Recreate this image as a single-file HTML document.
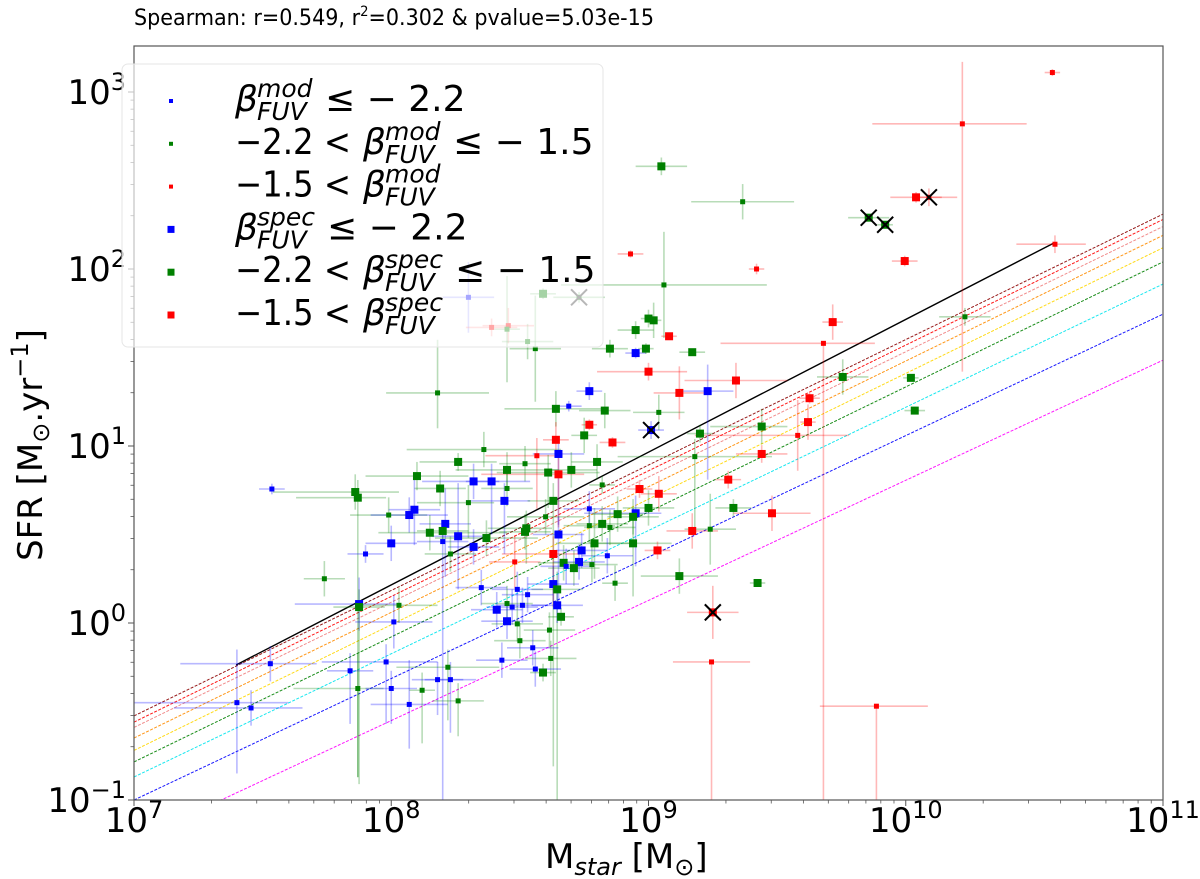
<!DOCTYPE html>
<html><head><meta charset="utf-8"><style>
html,body{margin:0;padding:0;background:#fff;}
svg{display:block;font-family:"DejaVu Sans","Liberation Sans",sans-serif;}
</style></head><body>
<svg id="chart" width="1200" height="879" viewBox="0 0 1200 879" xmlns="http://www.w3.org/2000/svg">
<text x="134" y="25" font-size="22" fill="#000" textLength="520" lengthAdjust="spacingAndGlyphs">Spearman: r=0.549, r<tspan font-size="14" dy="-9">2</tspan><tspan dy="9">=0.302 &amp; pvalue=5.03e-15</tspan></text>
<defs><clipPath id="plotclip"><rect x="134" y="46" width="1029" height="754"/></clipPath></defs>
<rect x="134" y="46" width="1029" height="754" fill="#fff"/>
<g id="lines" clip-path="url(#plotclip)"></g>
<g id="errs" clip-path="url(#plotclip)"></g>
<g id="marks" clip-path="url(#plotclip)"></g>
<rect x="134" y="46" width="1029" height="754" fill="none" stroke="#555" stroke-width="1.2"/>
<g id="ticks"></g>
<text transform="translate(42,445) rotate(-90)" text-anchor="middle" font-size="34">SFR [M<tspan font-size="24" dy="7">⊙</tspan><tspan dy="-7">.yr</tspan><tspan font-size="24" dy="-14">−1</tspan><tspan dy="14">]</tspan></text>
<text x="545" y="868" font-size="34">M<tspan font-size="24" dy="7" font-style="italic">star</tspan><tspan dy="-7"> [M</tspan><tspan font-size="24" dy="7">⊙</tspan><tspan dy="-7">]</tspan></text>
<g id="legend">
<rect x="122" y="64" width="481" height="283" rx="6" fill="#fff" fill-opacity="0.65" stroke="#e6e6e6" stroke-width="1"/>
</g>
</svg>
<script>
// ---- data ----
const xTickExp = [7, 8, 9, 10, 11];
const yTickExp = [-1, 0, 1, 2, 3];
const refLineLogSfrAt7 = [-0.525, -0.56, -0.59, -0.65, -0.72, -0.785, -0.87, -1.0, -1.23];
const refLineLogSfrAt11 = [2.31, 2.28, 2.24, 2.19, 2.12, 2.04, 1.915, 1.745, 1.485];
const fitLineLogMass = [7.397, 10.58];
const fitLineLogSfr = [-0.237, 2.15];
// points: logMass, logSFR, class (0 blue,1 green,2 red), marker (0 mod small,1 spec large), errors (dex)
const logMass = [7.536,7.86,7.87,8.10,8.19,8.26,8.32,7.99,8.07,8.09,8.21,8.15,8.20,8.26,8.00,7.90,8.32,7.74,7.875,7.875,8.03,8.01,7.53,7.40,7.455,7.84,7.98,7.87,8.00,8.07,8.12,8.18,8.23,8.22,8.26,
8.566,8.65,8.45,8.52,8.61,8.65,8.70,8.80,8.39,8.45,8.44,8.63,8.30,8.82,8.965,9.04,9.31,9.18,8.77,9.00,8.95,8.88,8.94,8.60,8.82,8.77,8.85,8.525,8.52,8.65,8.20,8.37,9.17,9.24,8.79,8.94,9.035,8.63,8.48,8.74,8.84,8.23,8.73,8.67,8.68,8.71,8.78,9.12,8.87,8.63,8.645,8.35,8.49,8.53,8.45,8.47,8.51,8.645,8.41,8.66,8.45,8.49,8.615,8.50,8.55,8.43,8.62,8.56,8.59,9.25,9.245,
9.05,9.06,8.93,8.30,8.59,8.73,8.39,8.455,8.45,8.53,8.56,8.18,9.00,9.02,8.95,9.08,8.85,8.95,8.99,9.17,9.00,9.12,9.23,8.77,8.69,8.64,8.83,9.04,8.77,9.01,8.75,8.64,8.86,9.20,8.36,
9.366,9.42,9.856,9.92,10.04,10.09,9.996,9.716,9.68,9.755,10.02,10.035,9.34,9.626,9.62,9.58,9.44,9.44,10.23,10.57,10.22,10.58,9.886,9.33,9.48,9.424];
const logSfr = [0.757,0.74,0.708,0.83,0.76,0.91,0.80,0.61,0.61,0.64,0.56,0.51,0.52,0.49,0.45,0.39,0.43,0.25,0.107,0.09,0.10,0.006,-0.23,-0.45,-0.48,-0.27,-0.22,-0.37,-0.37,-0.46,-0.38,-0.32,-0.32,-0.25,-0.44,
0.945,0.955,0.865,0.90,0.85,0.84,0.865,0.91,0.80,0.76,0.69,0.69,0.68,0.78,0.757,0.73,0.81,0.94,0.645,0.65,0.62,0.615,0.60,0.60,0.56,0.55,0.54,0.535,0.515,0.50,0.46,0.48,0.52,0.53,0.45,0.45,0.41,0.39,0.345,0.41,0.38,0.39,0.345,0.34,0.32,0.31,0.33,0.265,0.225,0.22,0.19,0.20,0.19,0.16,0.11,0.09,0.10,0.10,0.075,0.035,0.01,-0.005,-0.04,-0.10,-0.14,-0.21,-0.20,-0.26,-0.28,0.06,-0.22,
2.58,1.91,2.085,1.84,1.86,1.84,1.67,1.68,1.66,1.59,1.55,1.30,1.72,1.71,1.655,1.62,1.55,1.525,1.55,1.53,1.42,1.30,1.31,1.31,1.225,1.21,1.20,1.19,1.12,1.09,1.06,1.035,1.02,1.07,0.98,
2.38,2.00,2.29,2.25,2.405,2.405,2.045,1.70,1.58,1.39,1.385,1.20,1.37,1.27,1.135,1.06,1.11,0.955,1.73,3.11,2.82,2.14,-0.47,0.65,0.62,0.226];
const pointClass = [0,1,1,1,1,1,0,1,0,0,0,1,1,0,0,0,0,1,0,1,1,0,0,0,0,0,0,1,0,0,1,0,0,1,1,
2,0,1,1,1,2,1,1,0,1,0,1,1,1,2,2,2,1,0,1,0,1,1,1,1,1,1,1,1,0,0,1,2,1,1,1,2,2,2,0,0,1,0,1,0,1,1,1,1,0,1,0,0,0,1,0,0,0,0,1,0,1,1,1,0,0,1,0,1,2,2,
1,1,2,0,1,1,2,2,1,1,1,1,1,1,1,2,1,0,1,1,2,2,0,0,0,1,1,1,2,0,1,2,2,1,1,
1,2,1,1,2,2,2,2,2,1,1,1,2,2,2,2,1,2,1,2,2,2,2,1,2,1];
const pointLarge = [0,1,1,1,1,1,1,0,1,1,1,1,1,1,1,0,1,0,1,1,0,0,0,0,0,0,0,0,0,0,0,0,0,0,0,
0,1,1,0,1,1,1,1,1,0,1,1,0,0,1,1,1,0,0,1,1,1,1,0,1,0,0,1,1,1,0,1,1,0,1,1,1,1,0,1,0,0,1,1,0,1,0,1,0,1,1,0,0,0,0,0,0,1,1,1,1,0,0,0,0,0,0,0,1,1,0,
1,0,0,0,1,0,0,0,0,0,0,0,1,1,1,1,1,1,1,1,1,1,1,1,0,1,1,0,1,1,1,1,1,1,0,
0,0,1,1,1,0,1,1,0,1,1,1,1,1,1,0,1,1,0,0,0,0,0,1,1,1];
const errMassLo = [.05,.32,.24,.2,.1,.15,.2,.15,.15,.1,.1,.2,.1,.1,.1,.07,.1,.08,.25,.1,.15,.15,.35,.42,.3,.09,.25,.25,.1,.15,.05,.1,.1,.2,.1,
.2,.1,.2,.1,.2,.3,.1,.1,.1,.1,.15,.1,.2,.05,.05,.07,.05,.3,.1,.1,.2,.1,.1,.15,.1,.1,.1,.15,.1,.1,.1,.2,.1,.1,.15,.15,.05,.2,.1,.1,.1,.1,.1,.1,.1,.1,.1,.15,.05,.1,.1,.1,.1,.1,.1,.1,.1,.1,.1,.05,.1,.1,.1,.1,.1,.1,.1,.1,.05,.1,.15,
.1,.4,.05,.1,.05,.1,.1,.1,.05,.1,.1,.2,.03,.03,.07,.03,.07,.04,.03,.05,.2,.1,.1,.05,.05,.2,.1,.1,.03,.05,.05,.05,.05,.05,.3,
.2,.03,.08,.03,.1,.05,.05,.04,.4,.1,.03,.04,.2,.04,.03,.4,.2,.1,.1,.03,.35,.15,.22,.07,.15,.03];
const errMassHi = [.05,.17,.11,.2,.1,.15,.1,.15,.15,.1,.1,.3,.1,.1,.1,.07,.1,.08,.15,.1,.15,.15,.18,.2,.2,.09,.2,.1,.1,.15,.05,.1,.1,.2,.1,
.1,.1,.2,.1,.2,.1,.1,.1,.15,.1,.1,.1,.1,.05,.05,.07,.05,.3,.1,.1,.1,.1,.1,.15,.1,.1,.1,.1,.1,.1,.1,.2,.1,.1,.15,.15,.05,.1,.1,.1,.1,.1,.1,.1,.1,.1,.1,.15,.05,.1,.1,.1,.1,.1,.1,.1,.1,.1,.1,.05,.1,.1,.1,.1,.1,.1,.1,.1,.05,.1,.15,
.1,.4,.05,.1,.05,.1,.1,.1,.05,.1,.1,.2,.03,.03,.07,.03,.07,.04,.03,.05,.15,.1,.1,.05,.05,.2,.1,.1,.03,.05,.05,.05,.05,.05,.3,
.2,.03,.08,.03,.16,.05,.05,.04,.2,.1,.03,.04,.2,.04,.03,.2,.1,.1,.1,.03,.25,.12,.2,.07,.15,.03];
const errSfrLo = [.03,.1,1.58,.08,.1,.05,.1,.1,.1,.2,.3,.1,.05,.3,.1,.05,.1,.1,.15,1.0,.1,.15,.1,.4,.1,.3,.35,.5,.2,.25,.3,.2,.3,.3,.2,
.3,.4,.1,.1,.2,.3,.1,.1,.3,.1,.3,1.5,.2,.05,.05,.1,.05,.4,.1,.1,.3,.1,.1,.1,.1,.1,.1,.2,.1,.4,1.46,.1,.1,.2,.2,.3,.05,.3,.15,.1,.1,.1,.1,.1,.1,.1,.1,.1,.1,.1,1.2,.1,.1,.1,.1,.1,.1,.1,.1,.05,.1,.1,.1,.1,.1,.1,.1,.1,.05,.15,1.0,
.05,.3,.02,.2,.03,.03,.05,.1,.3,.1,.3,.2,.05,.1,.05,.02,.05,.03,.03,.02,.05,.15,.5,.05,.03,.1,.1,.1,.03,.05,.1,.1,.03,.05,.1,
.1,.03,.02,.02,.03,.05,.03,.1,2.7,.1,.02,.02,.1,.03,.1,.2,.1,.05,.05,.02,1.4,.05,1.0,.05,.1,.02];
const errSfrHi = [.03,.1,.1,.08,.1,.05,.1,.1,.1,.2,.2,.1,.05,.3,.1,.05,.1,.1,.15,.1,.1,.15,.1,.3,.1,.1,.1,.2,.1,.25,.1,.1,.1,.1,.1,
.1,.1,.1,.1,.1,.1,.1,.1,.1,.1,.1,.1,.1,.05,.05,.1,.05,.1,.1,.1,.1,.1,.1,.1,.1,.1,.1,.1,.1,.1,.1,.1,.1,.2,.2,.2,.05,.1,.15,.1,.1,.1,.1,.1,.1,.1,.1,.1,.1,.1,.1,.1,.1,.1,.1,.1,.1,.1,.1,.05,.1,.1,.1,.1,.1,.1,.1,.1,.05,.15,0,
.05,.3,.02,.2,.03,.03,.05,.1,.3,.1,.3,.3,.05,.1,.05,.02,.05,.03,.03,.02,.05,.15,.15,.05,.03,.1,.1,.1,.03,.05,.1,.1,.03,.05,.1,
.1,.03,.02,.02,.03,.05,.03,.1,0,.1,.02,.02,.1,.03,.1,.2,.1,.05,.05,.02,.35,.05,0,.05,.1,.02];
const crossMass = [8.73, 9.01, 9.25, 9.856, 9.92, 10.09];
const crossSfr = [1.84, 1.09, 0.06, 2.29, 2.25, 2.405];

// ---- axes ----
const X0 = 134, X1 = 1163, Y0 = 800, Y1 = 46;
function xs(lm){ return X0 + (lm - 7) / 4 * (X1 - X0); }
function ys(ls){ return Y0 - (ls + 1) * 177; }
const NS = 'http://www.w3.org/2000/svg';
function mk(tag, attrs, parent){ const e = document.createElementNS(NS, tag); for (const k in attrs) e.setAttribute(k, attrs[k]); parent.appendChild(e); return e; }
const colors = ['#0000ff', '#008000', '#ff0000'];
const errColors = ['rgba(0,0,255,0.28)', 'rgba(0,128,0,0.28)', 'rgba(255,0,0,0.28)'];
const lineColors = ['#8b0000', '#ff0000', '#f08080', '#ff8c00', '#ffd700', '#008000', '#00e5ee', '#0000ff', '#ff00ff'];
const lineNames = ['darkred', 'red', 'lightcoral', 'darkorange', 'gold', 'green', 'cyan', 'blue', 'magenta'];

const gl = document.getElementById('lines');
refLineLogSfrAt7.forEach((v, i) => {
  const l = mk('line', {x1: xs(7), y1: ys(v), x2: xs(11), y2: ys(refLineLogSfrAt11[i]), stroke: lineColors[i], 'stroke-width': 1, 'stroke-dasharray': '3,1.5', opacity: 0.9}, gl);
  
  
});
const fl = mk('line', {x1: xs(fitLineLogMass[0]), y1: ys(fitLineLogSfr[0]), x2: xs(fitLineLogMass[1]), y2: ys(fitLineLogSfr[1]), stroke: '#000', 'stroke-width': 1.4}, gl);



const ge = document.getElementById('errs');
const gm = document.getElementById('marks');
logMass.forEach((m, i) => {
  const s = logSfr[i], c = pointClass[i];
  const cx = xs(m), cy = ys(s);
  const g = mk('g', {}, ge);
  
  
  mk('line', {x1: xs(m - errMassLo[i]), y1: cy, x2: xs(m + errMassHi[i]), y2: cy, stroke: errColors[c], 'stroke-width': 1.6}, g);
  mk('line', {x1: cx, y1: ys(s - errSfrLo[i]), x2: cx, y2: ys(s + errSfrHi[i]), stroke: errColors[c], 'stroke-width': 1.6}, g);
});
logMass.forEach((m, i) => {
  const c = pointClass[i], sz = pointLarge[i] ? 8 : 5;
  const r = mk('rect', {x: xs(m) - sz / 2, y: ys(logSfr[i]) - sz / 2, width: sz, height: sz, fill: colors[c]}, gm);
  
  
});
crossMass.forEach((m, i) => {
  const cx = xs(m), cy = ys(crossSfr[i]), d = 8;
  const g = mk('g', {stroke: i === 0 ? '#333' : '#000', 'stroke-width': 2}, gm);
  
  
  mk('line', {x1: cx - d, y1: cy - d, x2: cx + d, y2: cy + d}, g);
  mk('line', {x1: cx - d, y1: cy + d, x2: cx + d, y2: cy - d}, g);
});

// ticks
const gt = document.getElementById('ticks');
xTickExp.forEach((e, i) => {
  const x = xs(e);
  const t = mk('line', {x1: x, y1: Y0, x2: x, y2: Y0 + 6, stroke: '#555', 'stroke-width': 1}, gt);
  
  
  const lab = mk('text', {x: x, y: 832, 'text-anchor': 'middle', 'font-size': 34}, gt);
  
  
  lab.innerHTML = '10<tspan font-size="24" dy="-14">' + e + '</tspan>';
  if (i < xTickExp.length - 1) for (let k = 2; k <= 9; k++) {
    const xm = xs(e + Math.log10(k));
    const mt = mk('line', {x1: xm, y1: Y0, x2: xm, y2: Y0 + 3.5, stroke: '#555', 'stroke-width': 0.8}, gt);
    
    
  }
});
yTickExp.forEach((e, i) => {
  const y = ys(e);
  const t = mk('line', {x1: X0 - 6, y1: y, x2: X0, y2: y, stroke: '#555', 'stroke-width': 1}, gt);
  
  
  const lab = mk('text', {x: 126, y: y + 12, 'text-anchor': 'end', 'font-size': 34}, gt);
  
  
  lab.innerHTML = '10<tspan font-size="24" dy="-14">' + (e < 0 ? '−' + (-e) : e) + '</tspan>';
  for (let k = 2; k <= 9; k++) {
    const ym = ys(e + Math.log10(k));
    if (ym < Y1) continue;
    const mt = mk('line', {x1: X0 - 3.5, y1: ym, x2: X0, y2: ym, stroke: '#555', 'stroke-width': 0.8}, gt);
    
    
  }
});

// legend
const legendColors = [0, 1, 2, 0, 1, 2];
const legendLarge = [0, 0, 0, 1, 1, 1];
const legendSup = ['mod', 'mod', 'mod', 'spec', 'spec', 'spec'];
const legendPre = ['', '−2.2 <', '−1.5 <', '', '−2.2 <', '−1.5 <'];
const legendPost = ['≤ − 2.2', '≤ − 1.5', '', '≤ − 2.2', '≤ − 1.5', ''];
const leg = document.getElementById('legend');
legendColors.forEach((c, i) => {
  const base = 111 + i * 42.8;
  const g = mk('g', {}, leg);
  
  
  const sz = legendLarge[i] ? 7 : 4;
  mk('rect', {x: 171 - sz / 2, y: base - 10 - sz / 2, width: sz, height: sz, fill: colors[c]}, g);
  if (legendPre[i]) { const t = mk('text', {x: 235, y: base, 'font-size': 36, textLength: 116, lengthAdjust: 'spacingAndGlyphs'}, g); t.textContent = legendPre[i]; }
  const bxx = legendPre[i] ? 363 : 235;
  const b = mk('text', {x: bxx, y: base, 'font-size': 36, 'font-style': 'italic'}, g); b.textContent = 'β';
  const sp = mk('text', {x: bxx + 22, y: base - 14, 'font-size': 25, 'font-style': 'italic'}, g); sp.textContent = legendSup[i];
  const sb = mk('text', {x: bxx + 22, y: base + 9, 'font-size': 25, 'font-style': 'italic'}, g); sb.textContent = 'FUV';
  if (legendPost[i]) { const t = mk('text', {x: bxx + (legendSup[i] === 'mod' ? 90 : 92), y: base, 'font-size': 36}, g); t.textContent = legendPost[i]; }
});
</script>
</body></html>
